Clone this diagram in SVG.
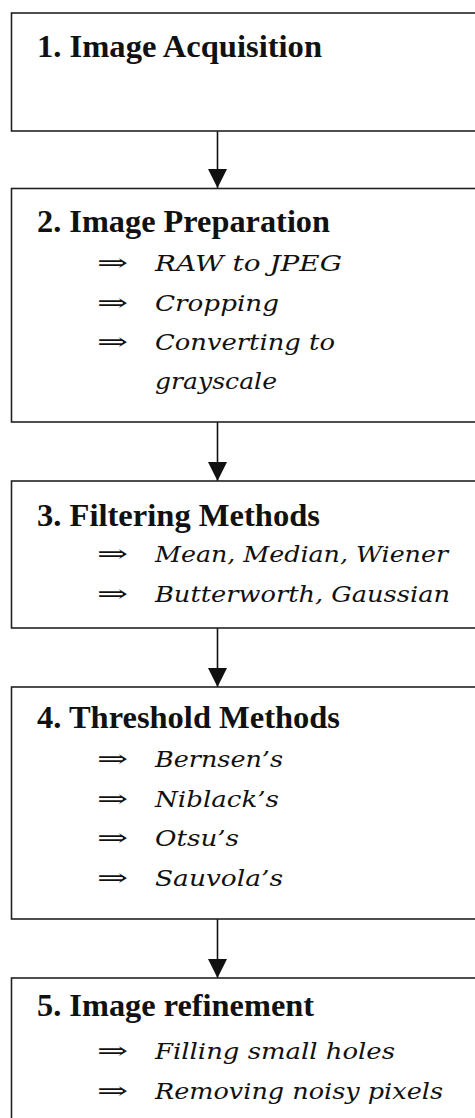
<svg xmlns="http://www.w3.org/2000/svg" width="475" height="1118" viewBox="0 0 475 1118">
<style>
.box{fill:#fff;stroke:#222;stroke-width:1.6}
.t{font-family:"Liberation Serif","Times New Roman",serif;font-weight:bold;font-size:32px;fill:#111}
.it{font-family:"DejaVu Serif",serif;font-style:italic;font-size:22px;fill:#111}
.ar{font-family:"DejaVu Serif","DejaVu Sans",serif;font-size:24px;fill:#111}
.cn{stroke:#111;stroke-width:1.6;fill:none}
</style>
<defs>
<marker id="ah" markerUnits="userSpaceOnUse" markerWidth="20" markerHeight="20" refX="18" refY="9" orient="auto" viewBox="0 0 19 18">
<path d="M0,0 L18,9 L0,18 Z" fill="#111"/>
</marker>
</defs>
<rect x="0" y="0" width="475" height="1118" fill="#fff"/>
<g id="connectors">
<line class="cn" x1="217.5" y1="131" x2="217.5" y2="188" marker-end="url(#ah)"/>
<line class="cn" x1="217.5" y1="422" x2="217.5" y2="481" marker-end="url(#ah)"/>
<line class="cn" x1="217.5" y1="628" x2="217.5" y2="687" marker-end="url(#ah)"/>
<line class="cn" x1="217.5" y1="919" x2="217.5" y2="978" marker-end="url(#ah)"/>
</g>
<g id="n1">
<rect class="box" x="11.5" y="13" width="480" height="118"/>
<text class="t" x="37" y="57" textLength="285" lengthAdjust="spacingAndGlyphs">1. Image Acquisition</text>
</g>
<g id="n2">
<rect class="box" x="11.5" y="188.5" width="480" height="233.5"/>
<text class="t" x="37" y="232" textLength="293" lengthAdjust="spacingAndGlyphs">2. Image Preparation</text>
<text class="ar" x="97" y="271" textLength="31" lengthAdjust="spacingAndGlyphs">⇒</text>
<text class="it" x="155" y="271" textLength="187" lengthAdjust="spacingAndGlyphs">RAW to JPEG</text>
<text class="ar" x="97" y="311" textLength="31" lengthAdjust="spacingAndGlyphs">⇒</text>
<text class="it" x="155" y="311" textLength="124" lengthAdjust="spacingAndGlyphs">Cropping</text>
<text class="ar" x="97" y="350" textLength="31" lengthAdjust="spacingAndGlyphs">⇒</text>
<text class="it" x="155" y="350" textLength="180" lengthAdjust="spacingAndGlyphs">Converting to</text>
<text class="it" x="155" y="389" textLength="122" lengthAdjust="spacingAndGlyphs">grayscale</text>
</g>
<g id="n3">
<rect class="box" x="11.5" y="481" width="480" height="147"/>
<text class="t" x="37" y="526" textLength="283" lengthAdjust="spacingAndGlyphs">3. Filtering Methods</text>
<text class="ar" x="97" y="562" textLength="31" lengthAdjust="spacingAndGlyphs">⇒</text>
<text class="it" x="155" y="562" textLength="293" lengthAdjust="spacingAndGlyphs">Mean, Median, Wiener</text>
<text class="ar" x="97" y="602" textLength="31" lengthAdjust="spacingAndGlyphs">⇒</text>
<text class="it" x="155" y="602" textLength="295" lengthAdjust="spacingAndGlyphs">Butterworth, Gaussian</text>
</g>
<g id="n4">
<rect class="box" x="11.5" y="687" width="480" height="232"/>
<text class="t" x="37" y="728" textLength="303" lengthAdjust="spacingAndGlyphs">4. Threshold Methods</text>
<text class="ar" x="97" y="767" textLength="31" lengthAdjust="spacingAndGlyphs">⇒</text>
<text class="it" x="155" y="767" textLength="128" lengthAdjust="spacingAndGlyphs">Bernsen’s</text>
<text class="ar" x="97" y="807" textLength="31" lengthAdjust="spacingAndGlyphs">⇒</text>
<text class="it" x="155" y="807" textLength="124" lengthAdjust="spacingAndGlyphs">Niblack’s</text>
<text class="ar" x="97" y="846" textLength="31" lengthAdjust="spacingAndGlyphs">⇒</text>
<text class="it" x="155" y="846" textLength="84" lengthAdjust="spacingAndGlyphs">Otsu’s</text>
<text class="ar" x="97" y="886" textLength="31" lengthAdjust="spacingAndGlyphs">⇒</text>
<text class="it" x="155" y="886" textLength="128" lengthAdjust="spacingAndGlyphs">Sauvola’s</text>
</g>
<g id="n5">
<rect class="box" x="11.5" y="978" width="480" height="160"/>
<text class="t" x="37" y="1016" textLength="277" lengthAdjust="spacingAndGlyphs">5. Image refinement</text>
<text class="ar" x="97" y="1059" textLength="31" lengthAdjust="spacingAndGlyphs">⇒</text>
<text class="it" x="155" y="1059" textLength="240" lengthAdjust="spacingAndGlyphs">Filling small holes</text>
<text class="ar" x="97" y="1099" textLength="31" lengthAdjust="spacingAndGlyphs">⇒</text>
<text class="it" x="155" y="1099" textLength="288" lengthAdjust="spacingAndGlyphs">Removing noisy pixels</text>
</g>
</svg>
